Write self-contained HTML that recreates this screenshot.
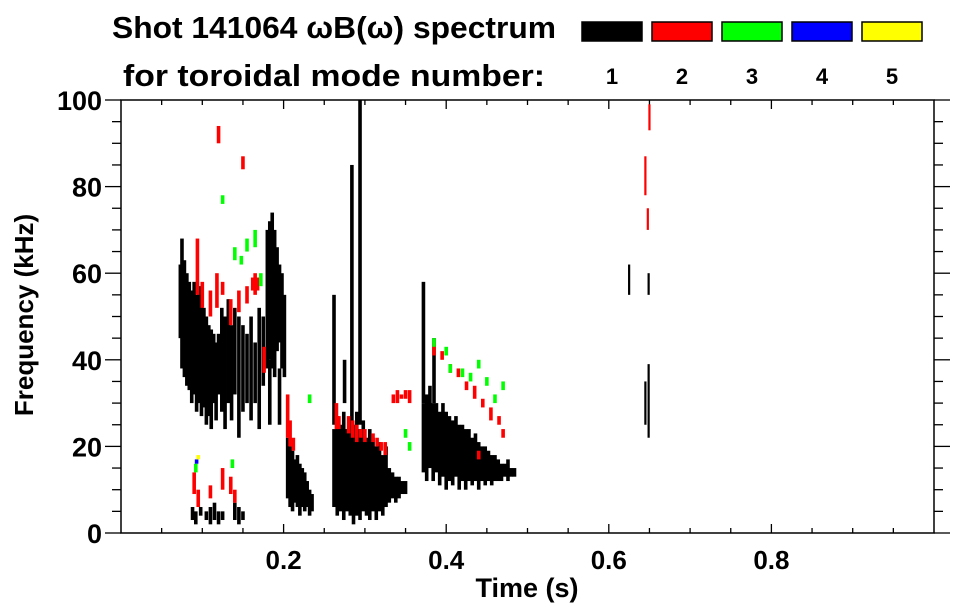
<!DOCTYPE html>
<html><head><meta charset="utf-8"><style>
body{margin:0;background:#fff}
svg{display:block;font-family:"Liberation Sans",sans-serif;font-weight:bold}
</style></head><body>
<svg id="chart" width="963" height="615" viewBox="0 0 963 615" xmlns="http://www.w3.org/2000/svg">
<text x="112" y="38" font-size="31" textLength="444" lengthAdjust="spacingAndGlyphs">Shot 141064 ωB(ω) spectrum</text>
<text x="123" y="86" font-size="31" textLength="422" lengthAdjust="spacingAndGlyphs">for toroidal mode number:</text>
<g id="legend"></g>
<g id="axes"></g>
<g id="marks"></g>
<text x="527" y="597" font-size="27" text-anchor="middle">Time (s)</text>
<text transform="translate(33,315) rotate(-90)" font-size="26" text-anchor="middle">Frequency (kHz)</text>
</svg>
<script>
const modeLabels = ["1","2","3","4","5"];
const modeColors = ["#000000","#ff0000","#00ff00","#0000ff","#ffff00"];
const xTicks = [0.2,0.4,0.6,0.8];
const yTicks = [0,20,40,60,80,100];
// [time s, f low kHz, f high kHz]
const mode1 = [[.073,45,62],[.075,38,68],[.078,36,63],[.081,34,60],[.084,33,58],[.087,30,56],[.090,32,58],[.093,28,55],[.096,30,57],[.099,27,54],[.102,29,52],[.105,25,50],[.108,27,48],[.111,24,47],[.114,30,46],[.117,26,44],[.120,32,46],[.124,28,52],[.128,24,50],[.132,30,54],[.136,26,48],[.140,32,52],[.145,22,50],[.150,28,48],[.155,30,46],[.160,26,50],[.165,30,44],[.170,24,52],[.175,34,50],
[.180,38,70],[.183,40,72],[.186,38,74],[.189,36,70],[.192,42,66],[.195,44,62],[.198,38,60],[.201,36,55],[.183,25,40],[.195,25,38],
[.088,3,6],[.092,2,5],[.098,4,6],[.105,3,5],[.110,2,6],[.115,3,7],[.120,2,5],[.125,3,5],[.140,3,7],[.145,2,6],[.150,3,5],
[.205,8,22],[.208,6,20],[.211,5,19],[.214,7,17],[.217,6,18],[.220,4,16],[.223,6,15],[.226,5,14],[.229,6,12],[.232,4,10],[.235,5,9],
[.262,6,24],[.266,4,27],[.270,5,25],[.274,3,28],[.278,5,24],[.282,4,26],[.286,2,25],[.290,4,28],[.294,3,24],[.298,5,26],[.302,4,22],[.306,3,24],[.310,5,22],[.314,3,20],[.318,5,21],[.322,4,18],[.326,6,20],[.330,7,15],[.334,8,14],[.338,7,13],[.342,8,13],[.346,9,12],[.350,9,12],
[.284,25,85],[.294,25,100],[.262,25,55],[.275,30,40],
[.372,14,30],[.376,12,32],[.380,15,34],[.384,12,30],[.388,14,30],[.392,11,28],[.396,13,30],[.400,10,28],[.404,12,27],[.408,11,26],[.412,13,27],[.416,10,25],[.420,12,25],[.424,10,24],[.428,12,24],[.432,11,22],[.436,12,23],[.440,10,21],[.444,12,20],[.448,11,20],[.452,12,19],[.456,11,18],[.460,12,18],[.464,12,17],[.468,12,16],[.472,13,16],[.476,12,17],[.480,13,15],[.484,13,15],
[.372,30,58],[.385,30,45],
[.649,55,60],[.649,22,39],[.645,25,35],[.625,55,62]];
const mode2 = [[.094,55,68],[.100,52,58],[.110,50,56],[.118,52,60],[.125,55,58],[.135,48,54],[.145,51,56],[.155,53,57],[.162,56,59],[.165,55,60],[.168,56,59],[.150,84,87],[.120,90,94],[.176,37,43],
[.205,22,32],[.208,20,26],[.212,19,22],
[.090,9,14],[.095,6,10],[.110,8,11],[.125,10,15],[.135,9,13],[.140,7,10],
[.265,24,30],[.268,24,27],[.280,23,27],[.285,22,26],[.290,21,25],[.295,22,24],[.300,21,24],[.310,21,23],[.315,20,22],[.320,19,21],[.325,18,21],
[.335,30,32],[.340,30,33],[.345,31,32],[.350,31,33],[.355,30,33],
[.385,41,44],[.395,40,42],[.405,37,39],[.415,36,38],[.425,33,35],[.435,31,34],[.445,29,31],[.455,26,29],[.465,25,27],[.440,17,19],[.470,22,24],
[.650,93,99],[.645,78,87],[.648,70,75]];
const mode3 = [[.140,63,66],[.148,62,64],[.155,65,68],[.165,66,70],[.172,57,60],[.125,76,78],[.092,14,16],[.137,15,17],
[.232,30,32],[.350,22,24],[.355,19,21],[.385,43,45],[.400,41,43],[.405,37,39],[.420,36,38],[.430,35,37],[.440,38,40],[.450,34,36],[.460,30,32],[.470,33,35]];
const mode4 = [[.093,16,17]];
const mode5 = [[.095,17,18]];
const modes = [mode1,mode2,mode3,mode4,mode5];

const NS="http://www.w3.org/2000/svg";
const X0=121,X1=934,Y0=533,Y1=100;
const xs=t=>X0+t*(X1-X0);
const ys=f=>Y0-f/100*(Y0-Y1);
function mk(tag,attrs,parent){const e=document.createElementNS(NS,tag);for(const k in attrs)e.setAttribute(k,attrs[k]);parent.appendChild(e);return e;}
const axes=document.getElementById('axes'),marks=document.getElementById('marks'),legend=document.getElementById('legend');

modeLabels.forEach((lab,i)=>{
  const bx=582+i*70;
  const r=mk('rect',{x:bx,y:22,width:60,height:19,fill:modeColors[i],stroke:'#000','stroke-width':1.5},legend);
  
  
  const t=mk('text',{x:bx+30,y:84,'font-size':22,'text-anchor':'middle'},legend);
  t.textContent=lab;
  
  
});

modes.forEach((arr,m)=>{
  arr.forEach(d=>{
    const x=xs(d[0]),y=ys(d[2]),h=ys(d[1])-ys(d[2]);
    const w=(d[0]>0.6)?2.2:3.6;
    const r=mk('rect',{x:x-w/2,y:y,width:w,height:Math.max(h,2),fill:modeColors[m]},marks);
    
    
  });
});

const fr=mk('rect',{x:X0,y:Y1,width:X1-X0,height:Y0-Y1,fill:'none',stroke:'#000','stroke-width':1.5},axes);


for(let k=1;k<20;k++){
  const t=k*0.05,x=xs(t),maj=(k%4===0);
  const L=maj?9:5;
  mk('line',{x1:x,y1:Y0,x2:x,y2:Y0-L,stroke:'#000','stroke-width':1.3},axes);
  mk('line',{x1:x,y1:Y1,x2:x,y2:Y1+L,stroke:'#000','stroke-width':1.3},axes);
}
xTicks.forEach(v=>{
  const t=mk('text',{x:xs(v),y:569,'font-size':26,'text-anchor':'middle'},axes);
  t.textContent=v.toFixed(1);
  
  
});
for(let k=0;k<=20;k++){
  const f=k*5,y=ys(f),maj=(k%4===0);
  const L=maj?16:9;
  mk('line',{x1:X0,y1:y,x2:X0-L,y2:y,stroke:'#000','stroke-width':1.3},axes);
  mk('line',{x1:X1,y1:y,x2:X1+L,y2:y,stroke:'#000','stroke-width':1.3},axes);
}
yTicks.forEach(v=>{
  const t=mk('text',{x:102,y:ys(v)+10,'font-size':27,'text-anchor':'end'},axes);
  t.textContent=String(v);
  
  
});
</script>
</body></html>
